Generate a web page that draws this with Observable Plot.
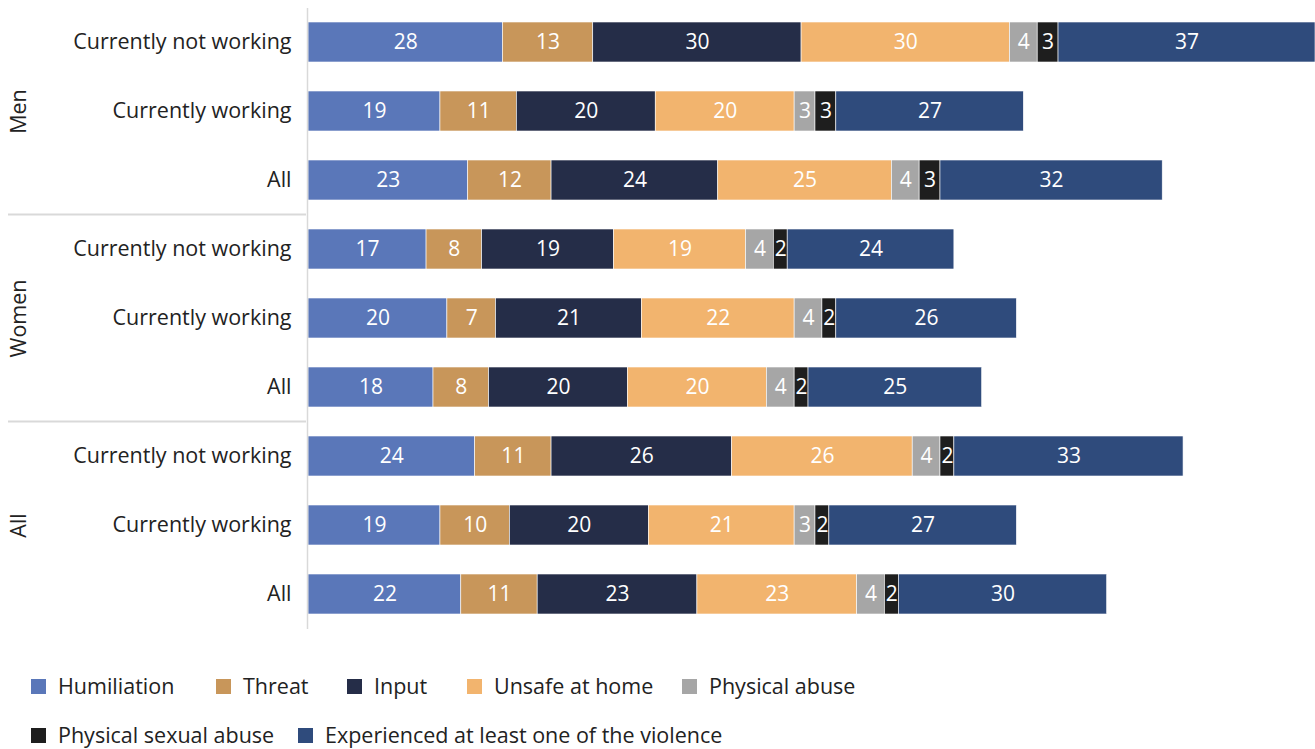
<!DOCTYPE html>
<html>
<head>
<meta charset="utf-8">
<script src="https://cdn.jsdelivr.net/npm/d3@7"></script>
<script src="https://cdn.jsdelivr.net/npm/@observablehq/plot@0.6"></script>
<style>
  body { margin: 0; background: #fff; font-family: "Open Sans", sans-serif; }
  #legend { position: relative; height: 109px; color: #222; font-size: 21.5px; line-height: 24px; }
  .item { position: absolute; display: flex; align-items: center; white-space: nowrap; }
  .sw { width: 15px; height: 15px; margin-right: 12px; display: inline-block; }
</style>
</head>
<body>
<div id="chart"></div>
<div id="legend"></div>
<script>
const groups = ["Men", "Women", "All"];
const subgroups = ["Currently not working", "Currently working", "All"];
const categories = ["Humiliation", "Threat", "Input", "Unsafe at home", "Physical abuse", "Physical sexual abuse", "Experienced at least one of the violence"];
const colors = ["#5a77b9", "#c8965a", "#252d48", "#f2b46e", "#a6a6a6", "#1e1e1e", "#2f4b7c"];

// values per row: [Humiliation, Threat, Input, Unsafe at home, Physical abuse, Physical sexual abuse, Experienced]
const menNotWorking   = [28, 13, 30, 30, 4, 3, 37];
const menWorking      = [19, 11, 20, 20, 3, 3, 27];
const menAll          = [23, 12, 24, 25, 4, 3, 32];
const womenNotWorking = [17, 8, 19, 19, 4, 2, 24];
const womenWorking    = [20, 7, 21, 22, 4, 2, 26];
const womenAll        = [18, 8, 20, 20, 4, 2, 25];
const allNotWorking   = [24, 11, 26, 26, 4, 2, 33];
const allWorking      = [19, 10, 20, 21, 3, 2, 27];
const allAll          = [22, 11, 23, 23, 4, 2, 30];

const rowsValues = [
  [menNotWorking, menWorking, menAll],
  [womenNotWorking, womenWorking, womenAll],
  [allNotWorking, allWorking, allAll]
];

// legend layout (left offsets, rows)
const legendLeft = [31, 216, 347, 467, 682, 31, 298];
const legendTop  = [12, 12, 12, 12, 12, 61, 61];

const rowKeys = [];
const data = [];
groups.forEach((g, gi) => {
  subgroups.forEach((s, si) => {
    const key = g + "|" + s;
    rowKeys.push(key);
    rowsValues[gi][si].forEach((v, ci) => {
      data.push({row: key, category: categories[ci], value: v});
    });
  });
});

const order = categories;
const fontFam = '"Open Sans", sans-serif';

const chart = Plot.plot({
  width: 1315,
  height: 640,
  marginLeft: 308,
  marginRight: 0,
  marginTop: 8,
  marginBottom: 11,
  style: {fontFamily: fontFam, fontSize: "21.5px", color: "#222", background: "#fff"},
  x: {domain: [0, 145], axis: null},
  y: {domain: rowKeys, paddingInner: 0.42, paddingOuter: 0.21, label: null,
      tickSize: 0, tickPadding: 17, tickFormat: d => d.split("|")[1]},
  color: {domain: categories, range: colors},
  marks: [
    Plot.barX(data, Plot.stackX({x: "value", y: "row", fill: "category", z: "category", order, stroke: "#fff", strokeWidth: 0.6})),
    Plot.textX(data, Plot.stackX({x: "value", y: "row", z: "category", text: d => String(d.value), order, fill: "#fff", fontSize: 21})),
    Plot.ruleX([0], {stroke: "#d9d9d9", strokeWidth: 1.5, dx: -1}),
    Plot.text(groups.map((g, i) => ({g, row: rowKeys[i * 3 + 1]})), {
      x: () => 0, y: "row", text: "g", rotate: -90, dx: -289, fontSize: 21.5, fill: "#222"
    })
  ]
});

document.getElementById("chart").appendChild(chart);

// group separators in the left margin, at band boundaries
const yS = chart.scale("y");
const svg = d3.select(chart);
[3, 6].forEach(i => {
  const yPos = yS.apply(rowKeys[i]) - (yS.step - yS.bandwidth) / 2;
  svg.append("line")
    .attr("x1", 8).attr("x2", 306)
    .attr("y1", yPos).attr("y2", yPos)
    .attr("stroke", "#d9d9d9").attr("stroke-width", 2);
});

const legend = document.getElementById("legend");
categories.forEach((c, i) => {
  const it = document.createElement("div");
  it.className = "item";
  it.style.left = legendLeft[i] + "px";
  it.style.top = (34 + legendTop[i] - 12) + "px";
  it.innerHTML = `<span class="sw" style="background:${colors[i]}"></span><span>${c}</span>`;
  legend.appendChild(it);
});
</script>
</body>
</html>
